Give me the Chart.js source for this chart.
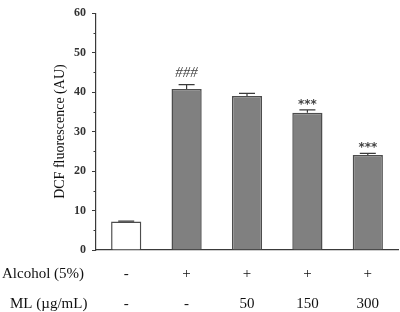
<!DOCTYPE html>
<html><head><meta charset="utf-8">
<script src="https://cdn.jsdelivr.net/npm/chart.js@4"></script>
<style>html,body{margin:0;padding:0;background:#fff}#wrap{width:400px;height:312px}</style>
</head><body><div id="wrap"><canvas id="c" width="400" height="312"></canvas></div>
<script>
const categories = ['Control', 'Alcohol', 'ML50', 'ML150', 'ML300'];
const values = [7.2, 40.8, 39.0, 34.8, 24.1];
const errors = [0.1, 1.1, 0.7, 0.7, 0.4];
const alcoholRow = ['-', '+', '+', '+', '+'];
const mlRow = ['-', '-', '50', '150', '300'];
const rowLabels = ['Alcohol (5%)', 'ML (\u00b5g/mL)'];
const annotations = ['', '###', '', '***', '***'];
const yTicks = [0, 10, 20, 30, 40, 50, 60];
const yMinorTicks = [5, 15, 25, 35, 45, 55];

const SERIF = '"Liberation Serif", "Times New Roman", serif';
const AXIS = '#3a3a3a';

const extras = {
  id: 'extras',
  afterDatasetsDraw(chart) {
    const ctx = chart.ctx, x = chart.scales.x, y = chart.scales.y;
    ctx.save();
    // error bars
    ctx.strokeStyle = '#3a3a3a';
    ctx.lineWidth = 1.2;
    values.forEach((v, i) => {
      const px = x.getPixelForValue(i);
      const top = y.getPixelForValue(v);
      const cap = y.getPixelForValue(v + errors[i]);
      ctx.beginPath();
      ctx.moveTo(px, top); ctx.lineTo(px, cap);
      ctx.moveTo(px - 8, cap); ctx.lineTo(px + 8, cap);
      ctx.stroke();
      if (annotations[i]) {
        const isHash = annotations[i].startsWith('#');
        ctx.fillStyle = '#444';
        ctx.font = isHash ? 'italic 15px ' + SERIF : 'bold 12px "DejaVu Sans", sans-serif';
        ctx.textAlign = 'center';
        ctx.textBaseline = 'alphabetic';
        const m = ctx.measureText(annotations[i]);
        const center = cap - (isHash ? 12.5 : 8);
        const base = center + (m.actualBoundingBoxAscent - m.actualBoundingBoxDescent) / 2;
        ctx.fillText(annotations[i], px, base);
      }
    });
    // minor ticks on y
    ctx.strokeStyle = AXIS;
    ctx.lineWidth = 1;
    yMinorTicks.forEach(t => {
      const py = Math.round(y.getPixelForValue(t)) + 0.5;
      ctx.beginPath();
      ctx.moveTo(y.right - 2.5, py); ctx.lineTo(y.right, py);
      ctx.stroke();
    });
    // row labels
    ctx.fillStyle = '#111';
    ctx.font = '15px ' + SERIF;
    ctx.textAlign = 'left';
    ctx.textBaseline = 'middle';
    ctx.fillText(rowLabels[0], 2, 274);
    ctx.fillText(rowLabels[1], 10, 304);
    ctx.restore();
  }
};

new Chart(document.getElementById('c'), {
  type: 'bar',
  data: {
    labels: categories,
    datasets: [{
      data: values,
      backgroundColor: ['#ffffff', '#808080', '#808080', '#808080', '#808080'],
      borderColor: '#4d4d4d',
      borderWidth: 1.5,
      borderSkipped: 'bottom',
      barPercentage: 0.5,
      categoryPercentage: 1.0
    }]
  },
  options: {
    responsive: false,
    animation: false,
    devicePixelRatio: 1,
    layout: { padding: { top: 6, right: 2, left: 0, bottom: 0 } },
    plugins: { legend: { display: false }, tooltip: { enabled: false } },
    scales: {
      x: {
        offset: true,
        grid: { display: false, drawTicks: false },
        border: { display: true, color: AXIS, width: 1.2 },
        ticks: {
          padding: 9,
          color: '#111',
          font: { family: SERIF, size: 15, lineHeight: 2 },
          callback: (v, i) => [alcoholRow[i], mlRow[i]]
        },
        afterFit: s => { s.height = 62; }
      },
      y: {
        min: 0, max: 60,
        afterBuildTicks: s => { s.ticks = yTicks.map(v => ({ value: v })); },
        grid: { drawOnChartArea: false, drawTicks: true, tickLength: 4, color: AXIS },
        border: { display: true, color: AXIS, width: 1.2 },
        ticks: { padding: 6, color: '#333', font: { family: SERIF, size: 12, weight: 'bold' } },
        title: {
          display: true,
          text: 'DCF fluorescence (AU)',
          color: '#111',
          font: { family: SERIF, size: 14 },
          padding: { top: 52, bottom: 0 }
        },
        afterFit: s => { s.width = 96; }
      }
    }
  },
  plugins: [extras]
});
</script>
</body></html>
